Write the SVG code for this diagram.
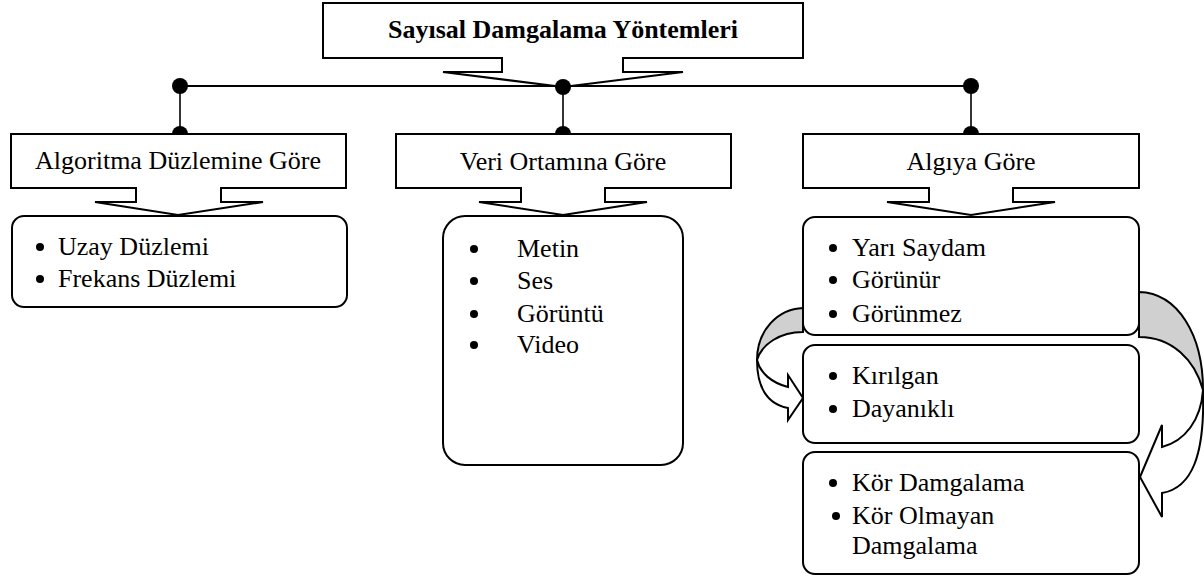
<svg xmlns="http://www.w3.org/2000/svg" width="1204" height="579" viewBox="0 0 1204 579">
<style>
.box{fill:#fff;stroke:#000;stroke-width:2;stroke-linejoin:miter}
.lst{fill:#fff;stroke:#000;stroke-width:2}
.t{font-family:"Liberation Serif","Times New Roman",serif;font-size:26px;fill:#000}
.c{text-anchor:middle}
.b{font-weight:bold}
.ln{stroke:#000;stroke-width:2;fill:none}
.vl{stroke:#000;stroke-width:1.6;fill:none}
.dot{fill:#000}
.arr{stroke:#000;stroke-width:2;stroke-linejoin:miter}
</style>
<rect width="1204" height="579" fill="#fff"/>
<g id="title">
<path class="box" d="M323,3 H803 V58 H623 V72 H683 L563,87 L443,72 H502 V58 H323 Z"/>
<text class="t c b" x="563" y="38">Sayısal Damgalama Yöntemleri</text>
</g>
<g id="algoritma">
<path class="box" d="M11,134 H346 V188 H221 V202 H263 L178,215 L95,202 H136 V188 H11 Z"/>
<text class="t c" x="178" y="169">Algoritma Düzlemine Göre</text>
</g>
<g id="veri">
<path class="box" d="M396,134 H731 V188 H605 V202 H647 L563,215 L479,202 H521 V188 H396 Z"/>
<text class="t c" x="563" y="170">Veri Ortamına Göre</text>
</g>
<g id="algi">
<path class="box" d="M803,134 H1139 V188 H1013 V202 H1055 L971,215 L887,202 H929 V188 H803 Z"/>
<text class="t c" x="971" y="170">Algıya Göre</text>
</g>
<g id="list-algoritma">
<rect class="lst" x="12" y="216" width="335" height="91" rx="12"/>
<circle cx="40" cy="247" r="4"/>
<circle cx="40" cy="279" r="4"/>
<text class="t" x="58" y="255">Uzay Düzlemi</text>
<text class="t" x="58" y="287">Frekans Düzlemi</text>
</g>
<g id="list-veri">
<rect class="lst" x="443" y="216" width="240" height="249" rx="22"/>
<circle cx="474" cy="249" r="4"/>
<circle cx="474" cy="281" r="4"/>
<circle cx="474" cy="314" r="4"/>
<circle cx="474" cy="345" r="4"/>
<text class="t" x="517" y="257">Metin</text>
<text class="t" x="517" y="289">Ses</text>
<text class="t" x="517" y="322">Görüntü</text>
<text class="t" x="517" y="353">Video</text>
</g>
<g id="list-algi-1">
<rect class="lst" x="803" y="217" width="336" height="118" rx="12"/>
<circle cx="833" cy="248" r="4"/>
<circle cx="833" cy="280" r="4"/>
<circle cx="833" cy="314" r="4"/>
<text class="t" x="852" y="256">Yarı Saydam</text>
<text class="t" x="852" y="288">Görünür</text>
<text class="t" x="852" y="322">Görünmez</text>
</g>
<g id="list-algi-2">
<rect class="lst" x="803" y="345" width="336" height="98" rx="12"/>
<circle cx="833" cy="376" r="4"/>
<circle cx="833" cy="409" r="4"/>
<text class="t" x="852" y="384">Kırılgan</text>
<text class="t" x="852" y="417">Dayanıklı</text>
</g>
<g id="list-algi-3">
<rect class="lst" x="803" y="452" width="336" height="122" rx="12"/>
<circle cx="833" cy="483" r="4"/>
<circle cx="836" cy="516" r="4"/>
<text class="t" x="852" y="491">Kör Damgalama</text>
<text class="t" x="852" y="524">Kör Olmayan</text>
<text class="t" x="852" y="554">Damgalama</text>
</g>
<g id="connectors">
<line class="ln" x1="180" y1="86" x2="971" y2="86"/>
<line class="vl" x1="180" y1="86" x2="180" y2="134"/>
<line class="vl" x1="563" y1="86" x2="563" y2="134"/>
<line class="vl" x1="971" y1="86" x2="971" y2="134"/>
<circle class="dot" cx="180" cy="86" r="8"/>
<circle class="dot" cx="563" cy="87" r="8"/>
<circle class="dot" cx="971" cy="86" r="8"/>
<path class="dot" d="M172,134 A8,8 0 0 1 188,134 Z"/>
<path class="dot" d="M555,134 A8,8 0 0 1 571,134 Z"/>
<path class="dot" d="M963,134 A8,8 0 0 1 979,134 Z"/>
<path class="arr" fill="#d0d0d0" d="M803,308 C778,309 757,330 757,360 C762,344 780,332 803,332 Z"/>
<path class="arr" fill="#fff" d="M757,360 C760,373 772,383 788,387 L788,375 L803,398 L788,420 L788,408 C768,404 757,388 757,360 Z"/>
<path class="arr" fill="#d0d0d0" d="M1139,292 C1178,293 1203,335 1203,390 C1195,360 1172,337 1139,337 Z"/>
<path class="arr" fill="#fff" d="M1203,390 C1201,420 1185,441 1162,447 L1162,425 L1140,477 L1162,517 L1162,493 C1192,488 1205,455 1203,390 Z"/>
</g>
</svg>
